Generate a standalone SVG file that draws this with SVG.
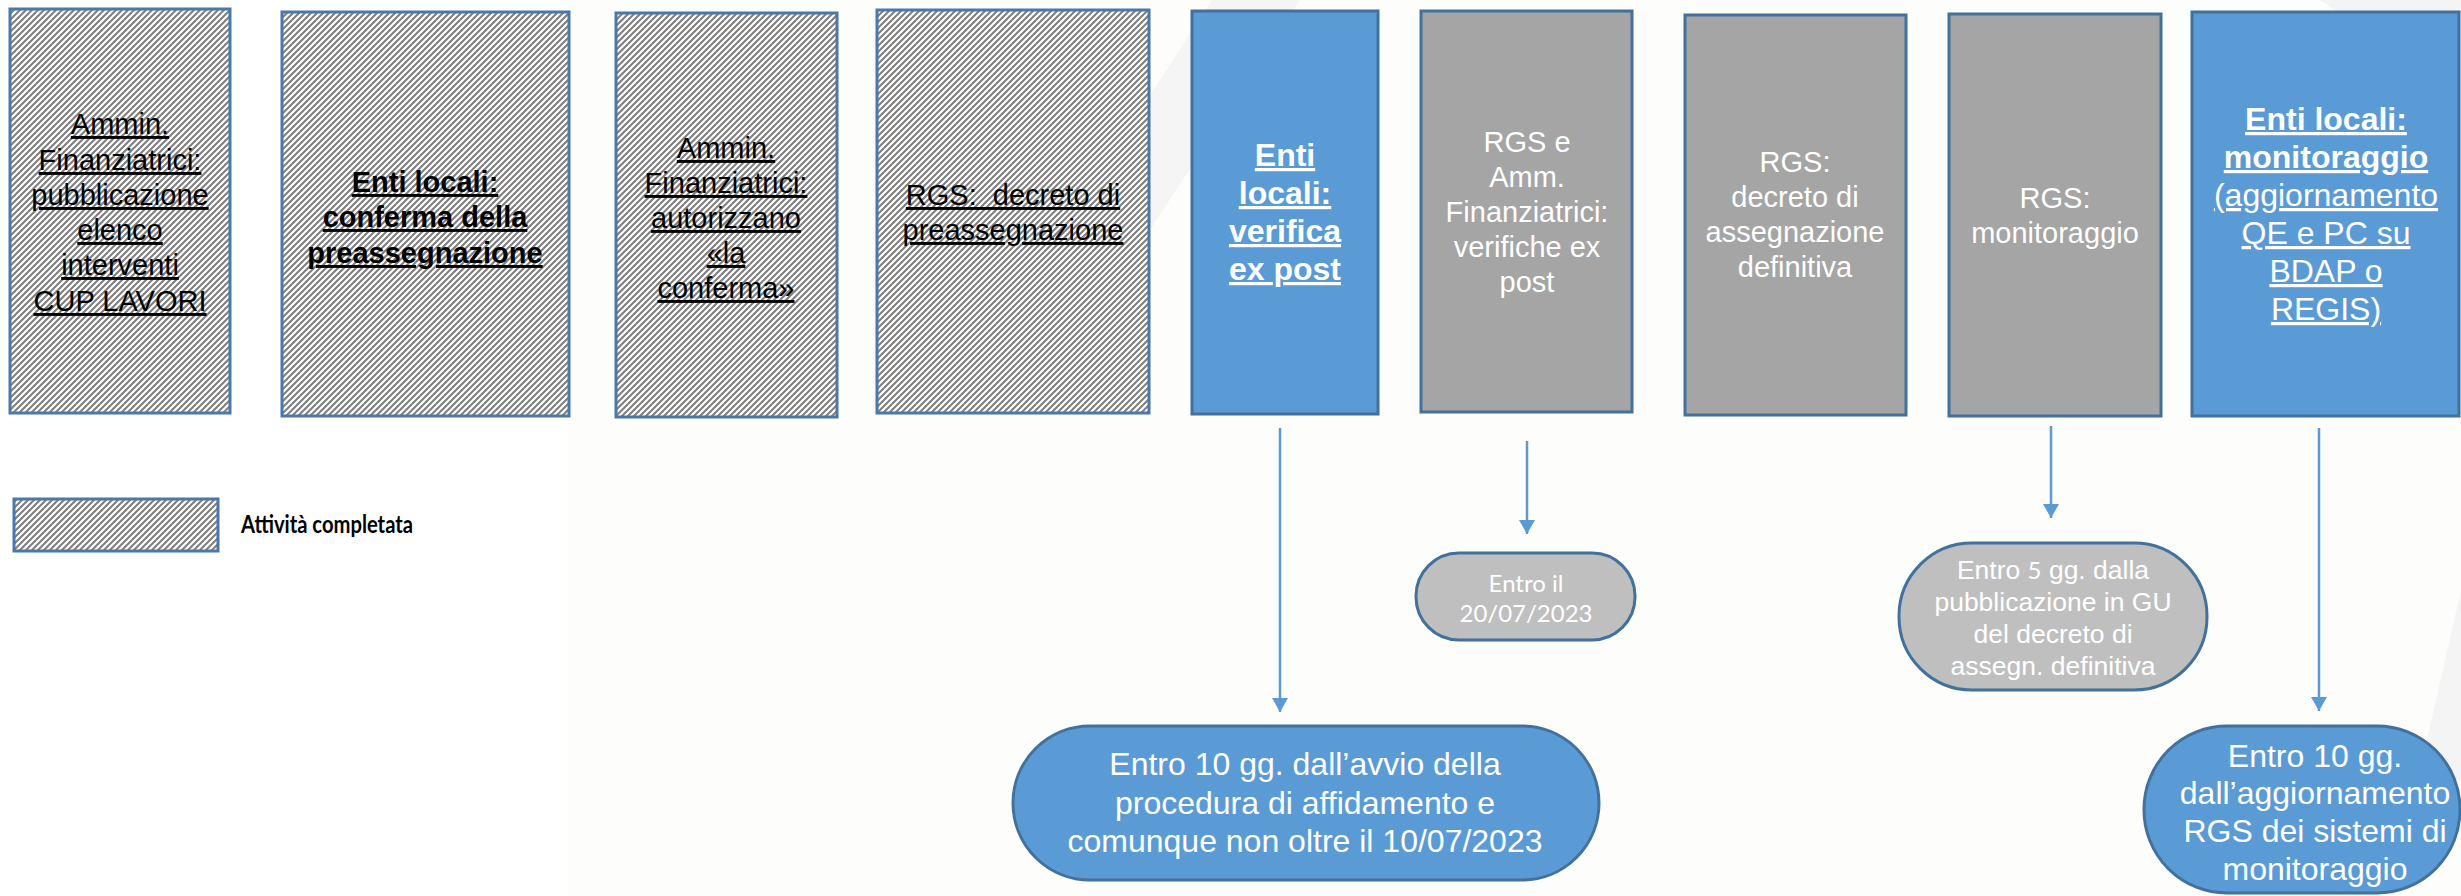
<svg xmlns="http://www.w3.org/2000/svg" width="2461" height="896" viewBox="0 0 2461 896">
<defs>
<pattern id="hatch" width="6" height="6" patternUnits="userSpaceOnUse">
<rect width="6" height="6" fill="#ffffff"/>
<path d="M-1,1 L1,-1 M0,6 L6,0 M5,7 L7,5" stroke="#7f7f7f" stroke-width="2.1"/>
</pattern>
<marker id="ah" viewBox="0 0 16 14" markerWidth="16" markerHeight="14" refX="8" refY="14" orient="0" markerUnits="userSpaceOnUse">
<path d="M0,0 L16,0 L8,14 z" fill="#5B9BD5"/>
</marker>
<style>
.hb{fill:url(#hatch);stroke:#4A78AA;stroke-width:3}
.bb{fill:#5B9BD5;stroke:#41719C;stroke-width:3}
.gb{fill:#A5A5A5;stroke:#41719C;stroke-width:3}
.gp{fill:#BFBFBF;stroke:#41719C;stroke-width:3}
.t{font-family:"Liberation Sans",Arial,sans-serif;text-anchor:middle}
.s29{font-size:29px}
.s32{font-size:32px}
.s26{font-size:26.5px}
.k{fill:#000000}
.w{fill:#ffffff}
.b{font-weight:bold}
.u{text-decoration:underline}
.cal{font-family:Lato,"Open Sans",sans-serif}
.conn{stroke:#5B9BD5;stroke-width:2.5;fill:none}
</style>
</defs>
<rect width="2461" height="896" fill="#ffffff"/>
<rect x="568" y="0" width="1893" height="896" fill="#fdfdfc"/>
<polygon points="1212,0 1300,0 1150,230 1150,95" fill="#f5f5f5"/>
<polygon points="2320,0 2461,0 2461,14 2340,14" fill="#f4f4f4"/>
<polygon points="2461,590 2418,780 2461,780" fill="#f4f4f4"/>

<g id="n1">
<rect class="hb" x="10" y="9" width="220" height="404"/>
<text class="t s29 k u"><tspan x="120" y="134">Ammin.</tspan><tspan x="120" y="170">Finanziatrici:</tspan><tspan x="120" y="205">pubblicazione</tspan><tspan x="120" y="240">elenco</tspan><tspan x="120" y="275">interventi</tspan><tspan x="120" y="311">CUP LAVORI</tspan></text>
</g>
<g id="n2">
<rect class="hb" x="282" y="12" width="287" height="404"/>
<text class="t s29 k b u"><tspan x="425" y="192">Enti locali:</tspan><tspan x="425" y="227">conferma della</tspan><tspan x="425" y="263">preassegnazione</tspan></text>
</g>
<g id="n3">
<rect class="hb" x="616" y="13" width="221" height="404"/>
<text class="t s29 k u"><tspan x="726" y="158">Ammin.</tspan><tspan x="726" y="193">Finanziatrici:</tspan><tspan x="726" y="228">autorizzano</tspan><tspan x="726" y="263">«la</tspan><tspan x="726" y="298">conferma»</tspan></text>
</g>
<g id="n4">
<rect class="hb" x="877" y="10" width="272" height="403"/>
<text class="t s29 k u"><tspan x="1013" y="205">RGS:&#160; decreto di</tspan><tspan x="1013" y="240">preassegnazione</tspan></text>
</g>
<g id="n5">
<rect class="bb" x="1192" y="11" width="186" height="403"/>
<text class="t s32 w b u"><tspan x="1285" y="166">Enti</tspan><tspan x="1285" y="204">locali:</tspan><tspan x="1285" y="242">verifica</tspan><tspan x="1285" y="280">ex post</tspan></text>
</g>
<g id="n6">
<rect class="gb" x="1421" y="11" width="211" height="401"/>
<text class="t s29 w"><tspan x="1527" y="152">RGS e</tspan><tspan x="1527" y="187">Amm.</tspan><tspan x="1527" y="222">Finanziatrici:</tspan><tspan x="1527" y="257">verifiche ex</tspan><tspan x="1527" y="292">post</tspan></text>
</g>
<g id="n7">
<rect class="gb" x="1685" y="15" width="221" height="400"/>
<text class="t s29 w"><tspan x="1795" y="172">RGS:</tspan><tspan x="1795" y="207">decreto di</tspan><tspan x="1795" y="242">assegnazione</tspan><tspan x="1795" y="277">definitiva</tspan></text>
</g>
<g id="n8">
<rect class="gb" x="1949" y="14" width="212" height="402"/>
<text class="t s29 w"><tspan x="2055" y="208">RGS:</tspan><tspan x="2055" y="243">monitoraggio</tspan></text>
</g>
<g id="n9">
<rect class="bb" x="2192" y="12" width="267" height="404"/>
<text class="t s32 w u"><tspan class="b" x="2326" y="130">Enti locali:</tspan><tspan class="b" x="2326" y="168">monitoraggio</tspan><tspan x="2326" y="206">(aggiornamento</tspan><tspan x="2326" y="244">QE e PC su</tspan><tspan x="2326" y="282">BDAP o</tspan><tspan x="2326" y="320">REGIS)</tspan></text>
</g>

<g id="p1">
<rect class="bb" x="1013" y="726" width="586" height="154" rx="77" ry="77"/>
<text class="t s32 w"><tspan x="1305" y="775">Entro 10 gg. dall’avvio della</tspan><tspan x="1305" y="814">procedura di affidamento e</tspan><tspan x="1305" y="852">comunque non oltre il 10/07/2023</tspan></text>
</g>
<g id="p2">
<rect class="gp" x="1416" y="553" width="219" height="87" rx="43" ry="43"/>
<text class="t cal w" font-size="24"><tspan x="1526" y="592">Entro il</tspan><tspan x="1526" y="622">20/07/2023</tspan></text>
</g>
<g id="p3">
<rect class="gp" x="1899" y="543" width="308" height="147" rx="73" ry="73"/>
<text class="t s26 w"><tspan x="2053" y="579">Entro <tspan class="cal" font-size="24">5</tspan> gg. dalla</tspan><tspan x="2053" y="611">pubblicazione in GU</tspan><tspan x="2053" y="643">del decreto di</tspan><tspan x="2053" y="675">assegn. definitiva</tspan></text>
</g>
<g id="p4">
<rect class="bb" x="2144" y="726" width="316" height="167" rx="83" ry="83"/>
<text class="t s32 w"><tspan x="2315" y="767">Entro 10 gg.</tspan><tspan x="2315" y="804">dall’aggiornamento</tspan><tspan x="2315" y="842">RGS dei sistemi di</tspan><tspan x="2315" y="880">monitoraggio</tspan></text>
</g>

<g id="legend">
<rect class="hb" x="14" y="499" width="204" height="52"/>
<text x="241" y="533" font-family="Lato,'Open Sans',sans-serif" font-weight="bold" font-size="24" fill="#000" textLength="172" lengthAdjust="spacingAndGlyphs">Attività completata</text>
</g>

<g id="connectors">
<line class="conn" x1="1280" y1="428" x2="1280" y2="712" marker-end="url(#ah)"/>
<line class="conn" x1="1527" y1="441" x2="1527" y2="534" marker-end="url(#ah)"/>
<line class="conn" x1="2051" y1="426" x2="2051" y2="518" marker-end="url(#ah)"/>
<line class="conn" x1="2319" y1="428" x2="2319" y2="711" marker-end="url(#ah)"/>
</g>
</svg>
